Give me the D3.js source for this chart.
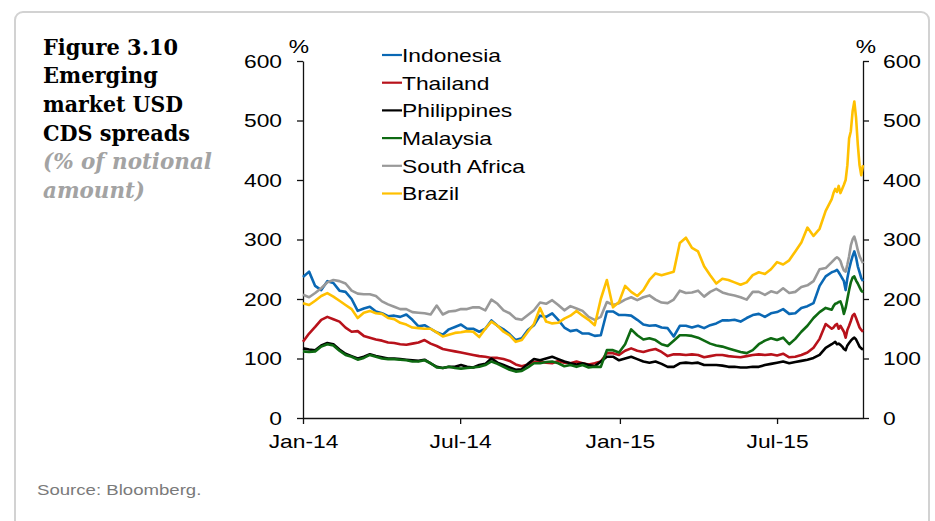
<!DOCTYPE html>
<html>
<head>
<meta charset="utf-8">
<script src="https://cdn.jsdelivr.net/npm/d3@7"></script>
<style>
  body { margin: 0; background: #fff; }
  svg { display: block; }
</style>
</head>
<body>
<div id="chart"></div>
<script>
// series names and colours, in drawing order (later ones sit on top)
const countries = ["Indonesia", "Thailand", "Philippines", "Malaysia", "South Africa", "Brazil"];
const colors = ["#0a68b4", "#b8121b", "#000000", "#0e6a12", "#999999", "#ffc000"];

const yTicks = [0, 100, 200, 300, 400, 500, 600];
const xTicks = [new Date(2014, 0, 1), new Date(2014, 6, 1), new Date(2015, 0, 1), new Date(2015, 6, 1)];
const xTickLabels = ["Jan-14", "Jul-14", "Jan-15", "Jul-15"];

// observation dates: weekly, then every second day from early Sep 2015
const dates = d3.timeDay.range(new Date(2014, 0, 1), new Date(2015, 8, 3), 7)
  .concat(d3.timeDay.range(new Date(2015, 8, 4), new Date(2015, 9, 9), 2));

// spreads (index matches dates)
const indonesia = [
  237, 246, 222, 215, 230, 227, 214, 212, 200, 180, 184, 187, 179, 176, 171, 172, 170, 174, 165, 154, 156,
  150, 144, 140, 149, 153, 157, 150, 150, 145, 150, 164, 155, 149, 141, 131, 134, 148, 156, 172, 170, 176,
  165, 152, 146, 148, 142, 142, 138, 139, 179, 179, 173, 173, 172, 165, 157, 155, 156, 152,
  151, 137, 155, 155, 152, 155, 151, 156, 159, 164, 164, 165, 162, 168, 173, 175,
  170, 176, 178, 183, 175, 176, 185, 188, 193, 222, 238, 245,
  246, 247, 249, 245, 240, 235, 230, 215, 235, 250, 262, 272, 280, 270, 255, 245, 235, 230
];
const thailand = [
  128, 142, 153, 165, 170, 166, 162, 152, 145, 146, 138, 135, 132, 130, 127, 126, 124, 123, 125, 127, 131,
  125, 121, 116, 114, 112, 110, 108, 106, 104, 103, 101, 101, 99, 96, 90, 87, 90, 94, 95, 93, 92,
  96, 93, 92, 95, 92, 90, 92, 95, 109, 109, 106, 113, 117, 113, 111, 114, 116, 111,
  104, 107, 107, 106, 107, 106, 102, 104, 106, 106, 104, 103, 102, 104, 106, 107,
  106, 107, 105, 108, 102, 103, 106, 110, 118, 133, 158, 150,
  152, 156, 158, 150, 155, 150, 145, 135, 148, 155, 163, 172, 175, 168, 160, 152, 148, 145
];
const philippines = [
  117, 115, 114, 122, 126, 124, 115, 108, 104, 100, 103, 107, 104, 102, 100, 100, 99, 98, 97, 96, 98,
  92, 86, 84, 86, 86, 89, 86, 85, 89, 91, 100, 93, 89, 85, 81, 82, 91, 99, 97, 100, 103,
  99, 95, 92, 90, 92, 89, 87, 95, 103, 103, 97, 100, 103, 99, 95, 93, 95, 91,
  86, 86, 92, 93, 92, 93, 89, 89, 89, 88, 86, 86, 85, 85, 86, 86,
  89, 91, 93, 95, 92, 94, 96, 98, 101, 106, 118, 124,
  126, 128, 124, 125, 123, 120, 116, 114, 122, 126, 130, 133, 135, 132, 126, 120, 117, 115
];
const malaysia = [
  112, 111, 112, 120, 124, 122, 113, 106, 103, 98, 101, 106, 103, 100, 99, 99, 98, 97, 95, 95, 97,
  92, 85, 84, 86, 84, 83, 84, 85, 86, 89, 95, 91, 86, 81, 78, 79, 85, 92, 92, 94, 95,
  92, 87, 89, 86, 89, 85, 86, 86, 114, 114, 110, 124, 149, 139, 132, 134, 131, 124,
  121, 130, 139, 139, 138, 135, 130, 125, 122, 120, 117, 114, 111, 109, 114, 124,
  130, 134, 131, 135, 124, 133, 145, 155, 168, 178, 185, 182,
  188, 192, 193, 195, 196, 188, 175, 185, 200, 215, 228, 236, 238, 231, 226, 220, 214, 211
];
const southAfrica = [
  207, 203, 210, 218, 228, 232, 230, 226, 214, 209, 208, 208, 205, 196, 191, 187, 183, 183, 178, 177, 176,
  174, 189, 174, 179, 180, 183, 183, 186, 186, 181, 199, 192, 181, 176, 167, 165, 173, 181, 194, 192, 198,
  190, 181, 188, 184, 180, 170, 165, 170, 195, 190, 193, 199, 203, 198, 203, 206, 199, 194,
  193, 199, 214, 210, 211, 214, 204, 212, 217, 211, 208, 206, 203, 199, 212, 212,
  207, 213, 210, 218, 210, 212, 220, 223, 230, 250, 252, 262,
  265, 268, 270, 268, 264, 255, 248, 246, 258, 272, 290, 300, 305, 295, 282, 272, 266, 260
];
const brazil = [
  193, 190, 197, 205, 210, 204, 197, 190, 183, 168, 177, 180, 176, 175, 168, 166, 160, 157, 152, 151, 150,
  150, 144, 137, 140, 143, 144, 146, 145, 136, 150, 162, 155, 145, 139, 128, 131, 145, 158, 185, 162, 159,
  160, 167, 172, 180, 172, 165, 156, 200, 232, 186, 195, 222, 212, 205, 215, 232, 243, 240,
  243, 246, 294, 303, 286, 280, 255, 240, 226, 234, 232, 228, 224, 228, 240, 245,
  242, 250, 262, 258, 265, 280, 295, 320, 306, 318, 348, 368,
  378, 385, 380, 390, 378, 385, 392, 400, 425, 470, 482, 515, 532, 505, 460, 425, 408, 425
];
const seriesValues = [indonesia, thailand, philippines, malaysia, southAfrica, brazil];

const titleLines = ["Figure 3.10", "Emerging", "market USD", "CDS spreads"];
const subtitleLines = ["(% of notional", "amount)"];
const source = "Source: Bloomberg.";

const W = 935, H = 521;
const svg = d3.select("#chart").append("svg").attr("width", W).attr("height", H);

// card frame
svg.append("rect")
  .attr("x", 15).attr("y", 12).attr("width", 914).attr("height", 560)
  .attr("rx", 8).attr("fill", "#fff").attr("stroke", "#d2d2d2").attr("stroke-width", 2);

// title block
const titleWidths = [135, 115, 140, 147, 169, 102];
const serif = "'DejaVu Serif', 'Liberation Serif', serif";
titleLines.concat(subtitleLines).forEach(function (t, i) {
  const sub = i >= titleLines.length;
  svg.append("text")
    .attr("x", 43).attr("y", 54.5 + i * 28.7)
    .attr("font-family", serif).attr("font-weight", "bold")
    .attr("font-style", sub ? "italic" : "normal")
    .attr("font-size", 22.5)
    .attr("fill", sub ? "#a3a3a3" : "#000")
    .attr("textLength", titleWidths[i]).attr("lengthAdjust", "spacingAndGlyphs")
    .text(t);
});

// scales
const x = d3.scaleTime().domain([new Date(2014, 0, 1), new Date(2015, 9, 8)]).range([303, 863]);
const y = d3.scaleLinear().domain([0, 600]).range([418, 61]);

const sans = "'Liberation Sans', Arial, sans-serif";

function styleAxis(g) {
  g.selectAll("path, line").attr("stroke", "#111").attr("stroke-width", 1.3);
  g.selectAll("text").attr("font-family", sans).attr("font-size", 19).attr("fill", "#000").classed("stretch", true);
}

svg.append("g").attr("transform", "translate(303,0)")
  .call(d3.axisLeft(y).tickValues(yTicks).tickSize(6).tickSizeOuter(0).tickPadding(15))
  .call(styleAxis);
svg.append("g").attr("transform", "translate(863,0)")
  .call(d3.axisRight(y).tickValues(yTicks).tickSize(6).tickSizeOuter(0).tickPadding(14))
  .call(styleAxis);
svg.append("g").attr("transform", "translate(0,418)")
  .call(d3.axisBottom(x).tickValues(xTicks).tickSize(6).tickSizeOuter(0).tickPadding(11)
    .tickFormat(function (d, i) { return xTickLabels[i]; }))
  .call(styleAxis);

// % unit labels above both axes
[299, 866].forEach(function (px) {
  svg.append("text").attr("x", px).attr("y", 53)
    .attr("text-anchor", "middle").attr("font-family", sans).attr("font-size", 19)
    .classed("stretch", true).text("%");
});

// lines
const line = d3.line()
  .x(function (d, i) { return x(dates[i]); })
  .y(function (d) { return y(d); });

svg.append("g").selectAll("path")
  .data(seriesValues)
  .join("path")
  .attr("fill", "none")
  .attr("stroke", function (d, i) { return colors[i]; })
  .attr("stroke-width", 2.6)
  .attr("stroke-linejoin", "round")
  .attr("d", line);

// legend
const legend = svg.append("g").selectAll("g")
  .data(countries)
  .join("g")
  .attr("transform", function (d, i) { return "translate(382," + (55 + i * 27.7) + ")"; });
legend.append("line")
  .attr("x1", 0).attr("x2", 20)
  .attr("stroke", function (d, i) { return colors[i]; }).attr("stroke-width", 2.2);
legend.append("text")
  .attr("x", 20).attr("dy", "0.36em")
  .attr("font-family", sans).attr("font-size", 19)
  .classed("stretch", true)
  .text(function (d) { return d; });

// source note
svg.append("text")
  .attr("x", 37).attr("y", 495)
  .attr("font-family", sans).attr("font-size", 15.5).attr("fill", "#7a7a7a")
  .classed("stretch", true)
  .text(source);

// the original picture is a little wider than tall; widen the sans texts to match
svg.selectAll("text.stretch").each(function () {
  const w = this.getComputedTextLength();
  d3.select(this).attr("textLength", w * 1.2).attr("lengthAdjust", "spacingAndGlyphs");
});
</script>
</body>
</html>
